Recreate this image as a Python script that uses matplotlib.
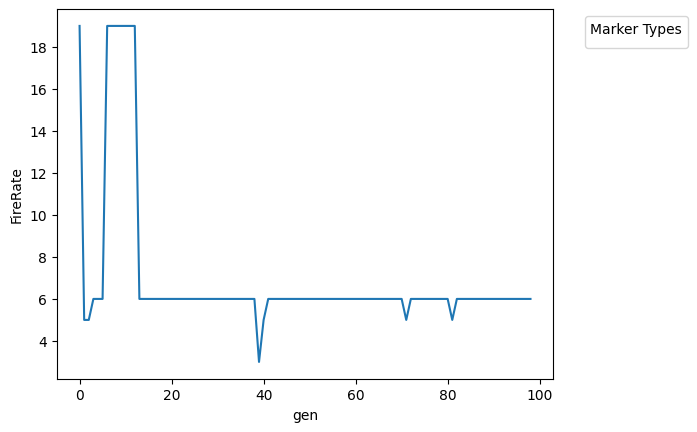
import matplotlib
matplotlib.use("Agg")
import matplotlib.pyplot as plt

# Données
gen = list(range(99))
fire_rate = [
    19, 5, 5, 6, 6, 6, 19, 19, 19, 19,
    19, 19, 19, 6, 6, 6, 6, 6, 6, 6,
    6, 6, 6, 6, 6, 6, 6, 6, 6, 6,
    6, 6, 6, 6, 6, 6, 6, 6, 6, 3,
    5, 6, 6, 6, 6, 6, 6, 6, 6, 6,
    6, 6, 6, 6, 6, 6, 6, 6, 6, 6,
    6, 6, 6, 6, 6, 6, 6, 6, 6, 6,
    6, 5, 6, 6, 6, 6, 6, 6, 6, 6,
    6, 5, 6, 6, 6, 6, 6, 6, 6, 6,
    6, 6, 6, 6, 6, 6, 6, 6, 6,
]

fig, ax = plt.subplots(figsize=(6.4, 4.8))
ax.plot(gen, fire_rate, color='#1f77b4')

ax.set_xlabel('gen')
ax.set_ylabel('FireRate')
ax.legend(handles=[], title='Marker Types', bbox_to_anchor=(1.05, 1), loc='upper left')

fig.savefig('out.png', dpi=100, bbox_inches='tight')
